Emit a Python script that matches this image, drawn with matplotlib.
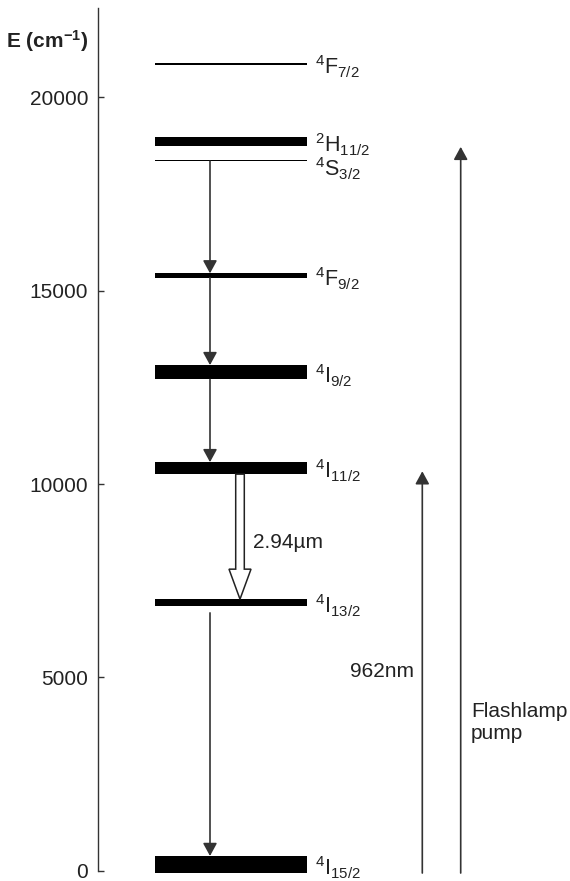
import matplotlib.pyplot as plt
from matplotlib.patches import FancyArrow

plt.rcParams['font.family'] = ['Liberation Sans', 'DejaVu Sans']
plt.rcParams['mathtext.fontset'] = 'custom'
plt.rcParams['mathtext.rm'] = 'Liberation Sans'
plt.rcParams['mathtext.it'] = 'Liberation Sans:italic'
plt.rcParams['mathtext.bf'] = 'Liberation Sans:bold'

# Er:YAG energy levels (cm^-1), band spread drawn as bar thickness
level_labels = [r'$^{4}$F$_{7/2}$', r'$^{2}$H$_{11/2}$', r'$^{4}$S$_{3/2}$', r'$^{4}$F$_{9/2}$',
                r'$^{4}$I$_{9/2}$', r'$^{4}$I$_{11/2}$', r'$^{4}$I$_{13/2}$', r'$^{4}$I$_{15/2}$']
level_energy = [20860, 18850, 18370, 15390, 12890, 10410, 6940, 165]
level_spread = [70, 225, 40, 115, 370, 310, 165, 430]
label_shift = [3, 3, 8, 3, 3, 3, 3, 3]   # px downward

# non-radiative decays (upper index, lower index, gap below upper level)
decay_from = [2, 3, 4, 6]
decay_to = [3, 4, 5, 7]
decay_gap = [0, 0, 0, 190]

# laser transition 4I11/2 -> 4I13/2
laser_upper, laser_lower = 5, 6
laser_label = '2.94\u00b5m'

# pump arrows
pump_labels = ['962nm', 'Flashlamp\npump']
pump_top = [10330, 18720]
pump_base = -60

yticks = [0, 5000, 10000, 15000, 20000]

fig = plt.figure(figsize=(5.7, 8.81), dpi=100)
ax = fig.add_axes([97.5 / 570, 0.0051, 472.5 / 570, 0.98581])
ax.set_xlim(97.5, 570)
ax.set_ylim(-150, 22310)

for s in ['top', 'right', 'bottom']:
    ax.spines[s].set_visible(False)
ax.spines['left'].set_bounds(0, 22310)
ax.spines['left'].set_color('#333333')
ax.spines['left'].set_linewidth(1.0)
ax.set_xticks([])
ax.set_yticks(yticks)
ax.set_yticklabels([str(t) for t in yticks])
ax.tick_params(axis='y', direction='in', length=4, width=1.0, color='#333333',
               pad=6.8, labelsize=15, labelcolor='#222222')

lx0, lx1 = 155, 306.7
ax.barh(level_energy, lx1 - lx0, left=lx0, height=level_spread, color='black')
for lab, e, sh in zip(level_labels, level_energy, label_shift):
    ax.annotate(lab, xy=(315, e), xytext=(0, -sh * 0.72), textcoords='offset points',
                ha='left', va='center', fontsize=15.5, color='#222222')

head = '-|>,head_length=0.55,head_width=0.3'
for i, j, g in zip(decay_from, decay_to, decay_gap):
    y0 = level_energy[i] - level_spread[i] / 2 - g
    y1 = level_energy[j] + level_spread[j] / 2
    ax.annotate('', xy=(210, y1), xytext=(210, y0),
                arrowprops=dict(arrowstyle=head, color='#333333', lw=1.2,
                                mutation_scale=14, shrinkA=0, shrinkB=0))

px = 0.03867   # pixels per cm^-1
ly0 = level_energy[laser_upper] - level_spread[laser_upper] / 2
ly1 = level_energy[laser_lower] + level_spread[laser_lower] / 2
ax.add_patch(FancyArrow(240, ly0, 0, ly1 - ly0, width=8.6, head_width=22,
                        head_length=30 / px, length_includes_head=True,
                        fc='white', ec='#222222', lw=1.1))
ax.text(253, (ly0 + ly1) / 2 - 150, laser_label, ha='left', va='center',
        fontsize=15, color='#222222')

for xp, top in zip([422.3, 460.7], pump_top):
    ax.annotate('', xy=(xp, top), xytext=(xp, pump_base),
                arrowprops=dict(arrowstyle=head, color='#333333', lw=1.2,
                                mutation_scale=14, shrinkA=0, shrinkB=0),
                annotation_clip=False)
ax.text(414, (870.7 - 671.5) / px, pump_labels[0], ha='right', va='center',
        fontsize=15, color='#222222')
ax.text(471, (870.7 - 722) / px, pump_labels[1], ha='left', va='center',
        fontsize=15, color='#222222', linespacing=1.2)

fig.text(88 / 570, 1 - 41 / 881, r'E (cm$^{\mathbf{-1}}$)', ha='right', va='center',
         fontsize=15, fontweight='bold', color='#222222')

fig.savefig('out.png', dpi=100)
